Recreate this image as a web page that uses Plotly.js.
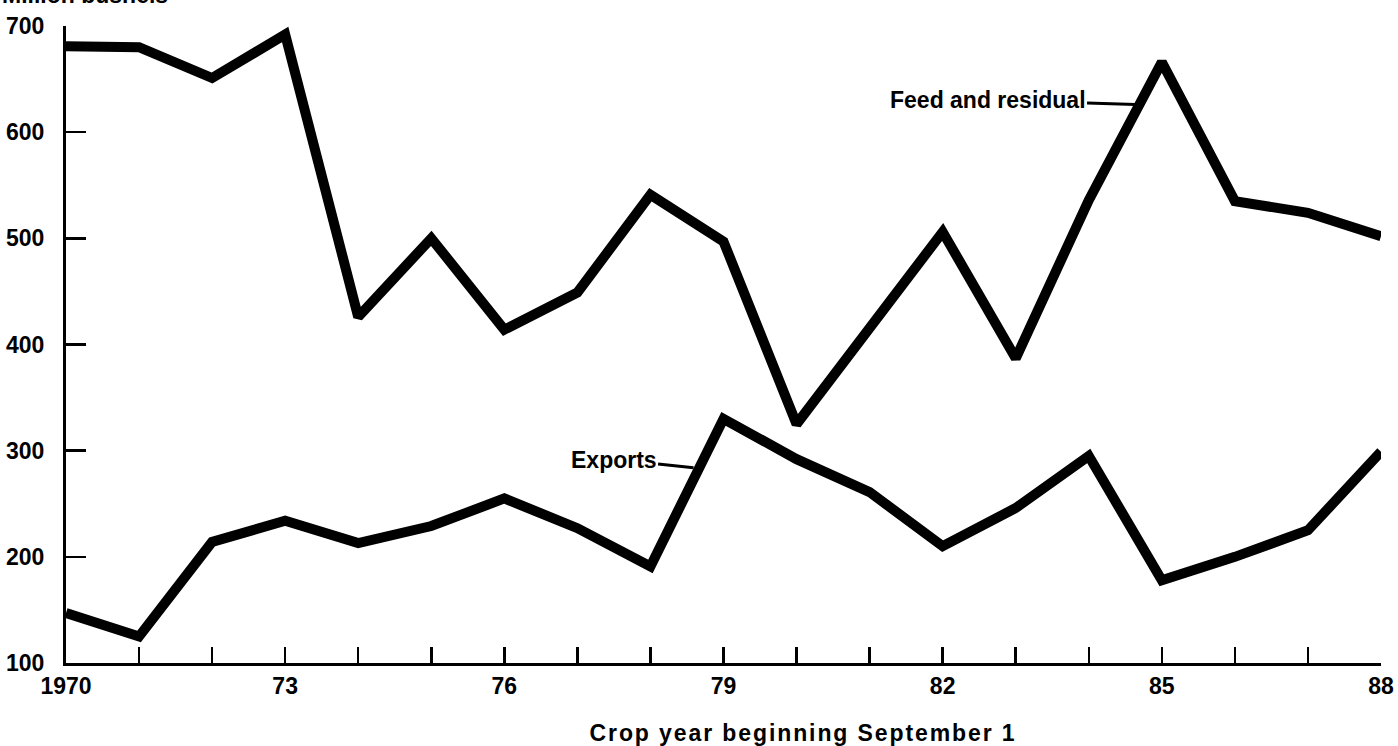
<!DOCTYPE html>
<html>
<head>
<meta charset="utf-8">
<script src="https://cdn.plot.ly/plotly-3.0.1.min.js"></script>
<style>
html,body{margin:0;padding:0;background:#fff;}
#chart{width:1398px;height:746px;}
#chart .annotation[data-index="3"] text{letter-spacing:1.9px;}
</style>
</head>
<body>
<div id="chart"></div>
<script>
const years = [1970,1971,1972,1973,1974,1975,1976,1977,1978,1979,1980,1981,1982,1983,1984,1985,1986,1987,1988];
const feedResidual = [681,680,651,692,426,500,414,449,541,497,325,415,506,387,536,666,535,524,502];
const exportsVals = [147,125,214,234,213,229,255,227,191,330,292,261,210,246,295,178,200,225,299];
const xTickLabels = ["1970","","","73","","","76","","","79","","","82","","","85","","","88"];
const yTickVals = [100,200,300,400,500,600,700];

const font = "Liberation Sans, Arial, Helvetica, sans-serif";
const traces = [
  {x: years, y: feedResidual, mode: "lines", line: {color: "#000", width: 10}, name: "Feed and residual", hoverinfo: "x+y"},
  {x: years, y: exportsVals, mode: "lines", line: {color: "#000", width: 10}, name: "Exports", hoverinfo: "x+y"}
];
const layout = {
  width: 1398, height: 746,
  margin: {l: 66, r: 17, t: 26, b: 83},
  paper_bgcolor: "#fff", plot_bgcolor: "#fff",
  showlegend: false,
  font: {family: font, color: "#000", size: 23, weight: "bold"},
  xaxis: {
    range: [1970, 1988], tickvals: years, ticktext: xTickLabels,
    ticks: "inside", ticklen: 16, tickwidth: 2.5, tickcolor: "#000",
    showline: true, linecolor: "#000", linewidth: 3, showgrid: false, zeroline: false,
    tickfont: {family: font, size: 23, color: "#000", weight: "bold"}
  },
  yaxis: {
    range: [100, 700], tickvals: yTickVals,
    ticks: "inside", ticklen: 20, tickwidth: 2.5, tickcolor: "#000",
    showline: true, linecolor: "#000", linewidth: 3, showgrid: false, zeroline: false,
    tickfont: {family: font, size: 23, color: "#000", weight: "bold"}, ticklabelstandoff: 14
  },
  annotations: [
    {x: 1984.64, y: 626, xref: "x", yref: "y", text: "Feed and residual", showarrow: true, arrowhead: 0, arrowwidth: 3, arrowcolor: "#000", ax: -148, ay: -5, font: {family: font, size: 23, color: "#000", weight: "bold"}},
    {x: 1978.59, y: 284, xref: "x", yref: "y", text: "Exports", showarrow: true, arrowhead: 0, arrowwidth: 3, arrowcolor: "#000", ax: -80, ay: -8, font: {family: font, size: 23, color: "#000", weight: "bold"}},
    {x: -0.0503, y: 1.0487, xref: "paper", yref: "paper", xanchor: "left", yanchor: "middle", text: "Million bushels", showarrow: false, font: {family: font, size: 23, color: "#000", weight: "bold"}},
    {x: 0.5605, y: -0.1099, xref: "paper", yref: "paper", xanchor: "center", yanchor: "middle", text: "Crop year beginning September 1", showarrow: false, font: {family: font, size: 23, color: "#000", weight: "bold"}}
  ]
};
Plotly.newPlot("chart", traces, layout, {displayModeBar: false, staticPlot: true});
</script>
</body>
</html>
